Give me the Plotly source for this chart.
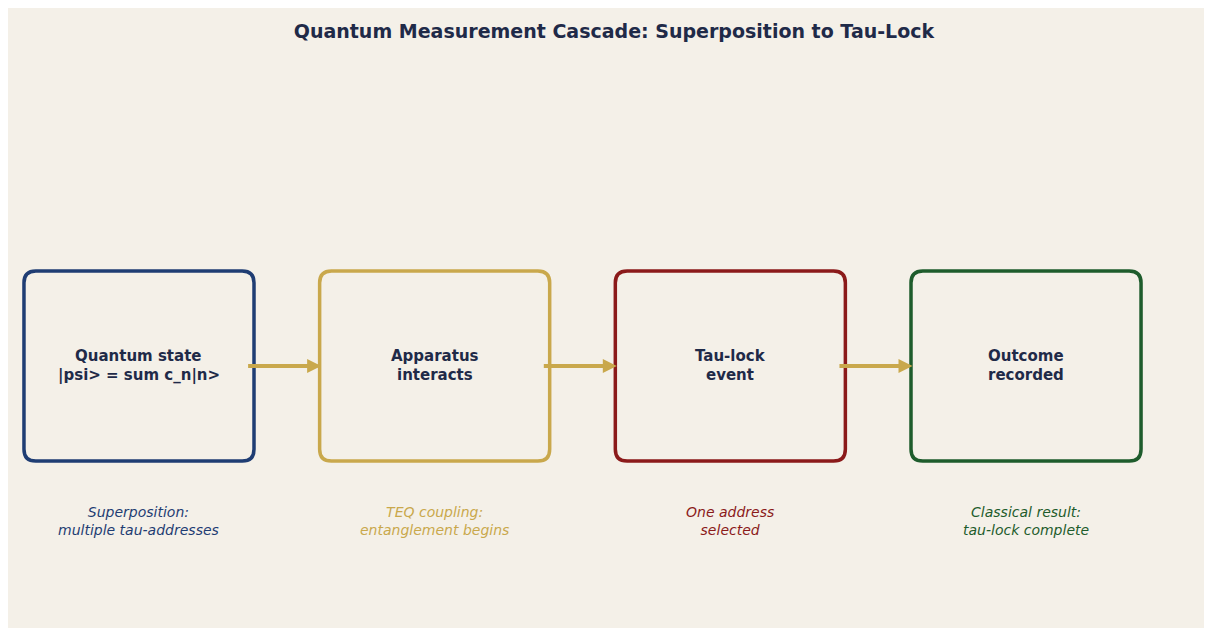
import plotly.graph_objects as go

stages = ["Quantum state<br>|psi> = sum c_n|n>", "Apparatus<br>interacts", "Tau-lock<br>event", "Outcome<br>recorded"]
captions = ["Superposition:<br>multiple tau-addresses", "TEQ coupling:<br>entanglement begins",
            "One address<br>selected", "Classical result:<br>tau-lock complete"]
colors = ["#1F3D73", "#C9A84C", "#8B1A1A", "#1E5C2C"]
positions = [0, 1, 2, 3]

BG = "#F4F0E8"
TEXT = "#1F2A48"
ARROW = "#C9A84C"
half_w = 0.389
half_h = 1.0
rad = 0.04

fig = go.Figure()

def rounded_rect(x0, y0, x1, y1, rx, ry):
    return (f"M {x0+rx},{y0} L {x1-rx},{y0} Q {x1},{y0} {x1},{y0+ry} "
            f"L {x1},{y1-ry} Q {x1},{y1} {x1-rx},{y1} L {x0+rx},{y1} "
            f"Q {x0},{y1} {x0},{y1-ry} L {x0},{y0+ry} Q {x0},{y0} {x0+rx},{y0} Z")

line_offsets = [0.105, -0.095]

for x, label, cap, col in zip(positions, stages, captions, colors):
    fig.add_shape(type="path",
                  path=rounded_rect(x - half_w, -half_h, x + half_w, half_h, rad, rad * 295.67 / 95),
                  line=dict(color=col, width=3.5), fillcolor="rgba(0,0,0,0)")
    for part, dy in zip(label.split("<br>"), line_offsets):
        fig.add_annotation(x=x, y=dy, text=f"<b>{part}</b>", showarrow=False,
                           font=dict(family="DejaVu Sans", size=15, color=TEXT), align="center")
    fig.add_annotation(x=x, y=-1.63, text=f"<i>{cap}</i>", showarrow=False,
                       font=dict(family="DejaVu Sans", size=14, color=col), align="center")

for a, b in zip(positions[:-1], positions[1:]):
    fig.add_annotation(x=b - half_w + 0.005, y=0, ax=a + half_w - 0.025, ay=0,
                       xref="x", yref="y", axref="x", ayref="y",
                       showarrow=True, arrowhead=2, arrowsize=0.7, arrowwidth=4,
                       arrowcolor=ARROW, text="")

fig.update_layout(
    width=1204, height=620,
    paper_bgcolor=BG, plot_bgcolor=BG,
    margin=dict(l=0, r=0, t=0, b=0),
    title=dict(text="<b>Quantum Measurement Cascade: Superposition to Tau-Lock</b>",
               x=0.5033, xanchor="center", y=0.962, yanchor="middle",
               font=dict(family="DejaVu Sans", size=19, color=TEXT)),
    xaxis=dict(range=[-0.443, 3.629], visible=False, fixedrange=True),
    yaxis=dict(range=[-2.758, 3.768], visible=False, fixedrange=True),
    showlegend=False,
)

fig.write_html("out.html")
